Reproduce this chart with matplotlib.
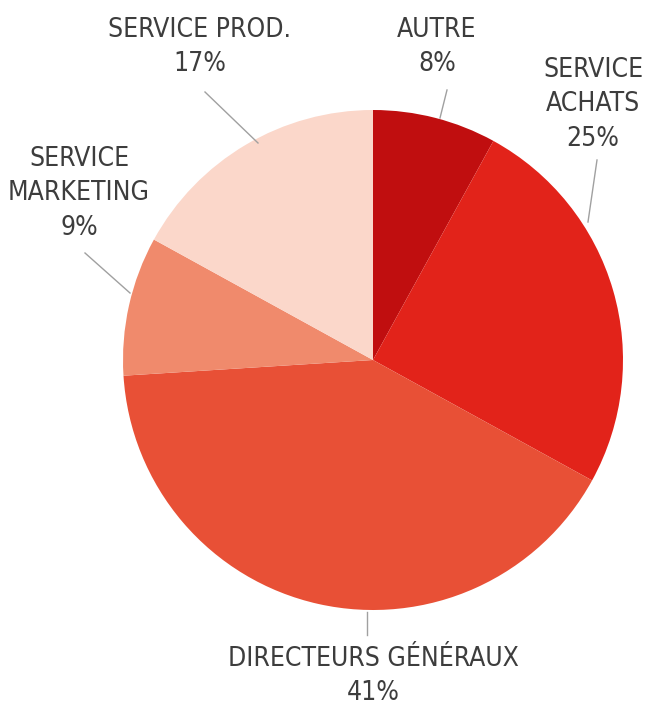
import matplotlib.pyplot as plt

labels = ["AUTRE", "SERVICE\nACHATS", "DIRECTEURS GÉNÉRAUX", "SERVICE\nMARKETING", "SERVICE PROD."]
shares = [8, 25, 41, 9, 17]
colors = ["#c00e0f", "#e2231a", "#e85036", "#f08a6c", "#fbd7ca"]

H = 706
fig = plt.figure(figsize=(6.45, 7.06), dpi=100)
ax = fig.add_axes([0, 0, 1, 1])

ax.pie(shares, colors=colors, startangle=90, counterclock=False,
       center=(373, H - 360), radius=250, frame=True,
       wedgeprops=dict(linewidth=0))
ax.set_xlim(0, 645)
ax.set_ylim(0, H)
ax.set_aspect("equal")
ax.axis("off")

# label text position (top of block, pixels) and leader line
text_pos = [(437, 17), (593, 57), (373, 646), (79, 146), (200, 17)]
leaders = [((447, 90), (440, 118)), ((597, 160), (588, 222)),
           ((367, 612), (367, 635)), ((85, 253), (130, 293)),
           ((205, 92), (258, 143))]

for lab, v, (tx, ty), (p1, p2) in zip(labels, shares, text_pos, leaders):
    ax.text(tx, H - ty, f"{lab}\n{v}%", ha="center", va="top",
            fontsize=19, color="#3d3d3d", family="DejaVu Sans",
            fontstretch="condensed", linespacing=1.42)
    ax.plot([p1[0], p2[0]], [H - p1[1], H - p2[1]], color="#a0a0a0", lw=1)

fig.savefig("out.png", dpi=100)
